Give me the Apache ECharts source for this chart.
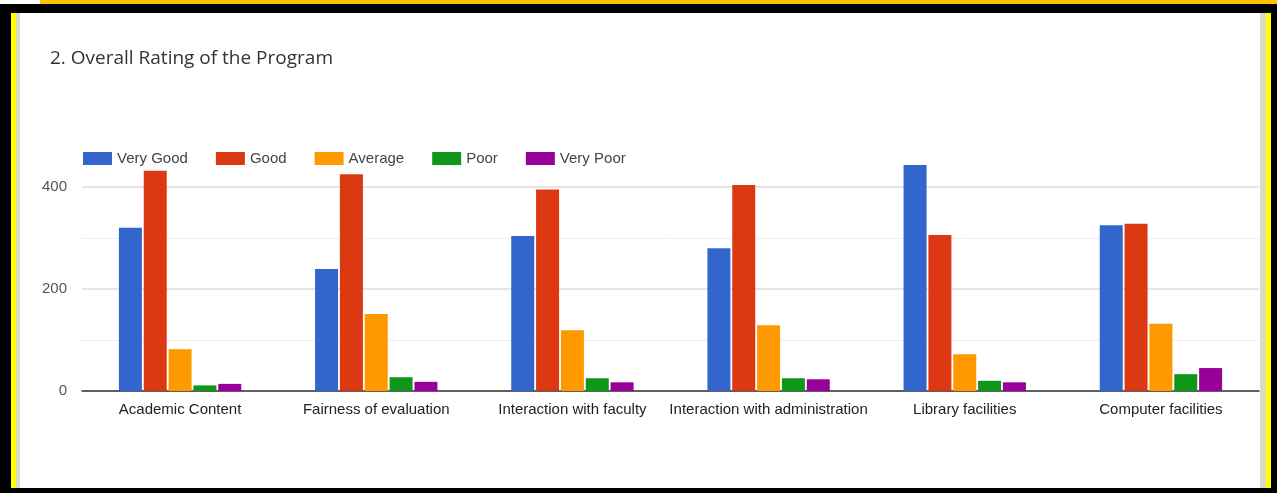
<!DOCTYPE html>
<html>
<head>
<meta charset="utf-8">
<script src="https://cdn.jsdelivr.net/npm/echarts@6/dist/echarts.min.js"></script>
<style>
html,body{margin:0;padding:0;width:1277px;height:493px;background:#fff;overflow:hidden;}
#chart{position:absolute;left:0;top:0;width:1277px;height:493px;}
.f{position:absolute;z-index:5;}
</style>
</head>
<body>
<div id="chart"></div>
<div class="f" style="left:40px;top:0;width:1237px;height:4px;background:#FFC000"></div>
<div class="f" style="left:0;top:4px;width:1277px;height:9px;background:#000"></div>
<div class="f" style="left:0;top:4px;width:11px;height:489px;background:#000"></div>
<div class="f" style="left:11px;top:13px;width:5px;height:475px;background:#FFFF00"></div>
<div class="f" style="left:16px;top:13px;width:4px;height:475px;background:#DDD8C8"></div>
<div class="f" style="left:1260px;top:13px;width:6px;height:475px;background:#DDD8C8"></div>
<div class="f" style="left:1266px;top:13px;width:5px;height:475px;background:#FFFF00"></div>
<div class="f" style="left:1271px;top:4px;width:6px;height:489px;background:#000"></div>
<div class="f" style="left:0;top:488px;width:1277px;height:5px;background:#000"></div>
<script>
var title = '2. Overall Rating of the Program';
var categories = ['Academic Content','Fairness of evaluation','Interaction with faculty','Interaction with administration','Library facilities','Computer facilities'];
var seriesNames = ['Very Good','Good','Average','Poor','Very Poor'];
var veryGood = [320, 239, 304, 280, 443, 325];
var good     = [432, 425, 395, 404, 306, 328];
var average  = [82, 151, 119, 129, 72, 132];
var poor     = [11, 27, 25, 25, 20, 33];
var veryPoor = [14, 18, 17, 23, 17, 45];
var colors = ['#3366CC','#DC3912','#FF9900','#109618','#990099'];
var yTicks = [0, 200, 400];

var allData = [veryGood, good, average, poor, veryPoor];
var chart = echarts.init(document.getElementById('chart'));
chart.setOption({
  animation: false,
  title: {
    text: title, left: 45, top: 44,
    textStyle: {fontFamily: 'Open Sans', fontSize: 19, fontWeight: 'normal', color: '#333'}
  },
  legend: {
    data: seriesNames, left: 78, top: 146, itemWidth: 29, itemHeight: 13, itemGap: 28,
    icon: 'rect',
    textStyle: {fontFamily: 'Liberation Sans', fontSize: 15, color: '#444'}
  },
  grid: {left: 82, right: 18, top: 187, bottom: 102, containLabel: false},
  xAxis: {
    type: 'category', data: categories,
    axisLine: {lineStyle: {color: '#333', width: 1.5}},
    axisTick: {show: false},
    axisLabel: {fontFamily: 'Liberation Sans', fontSize: 15, color: '#222', margin: 11, interval: 0}
  },
  yAxis: {
    type: 'value', min: yTicks[0], max: yTicks[yTicks.length - 1], interval: 200,
    axisLine: {show: false}, axisTick: {show: false},
    axisLabel: {fontFamily: 'Liberation Sans', fontSize: 15, color: '#555', margin: 15},
    splitLine: {lineStyle: {color: '#dcdcdc', width: 1.5}},
    minorTick: {show: false, splitNumber: 2},
    minorSplitLine: {show: true, lineStyle: {color: '#eeeeee', width: 1}}
  },
  series: seriesNames.map(function (n, i) {
    return {
      name: n, type: 'bar', data: allData[i], clip: false,
      barWidth: 23, barGap: '8%',
      itemStyle: {color: colors[i]}
    };
  })
});
</script>
</body>
</html>
